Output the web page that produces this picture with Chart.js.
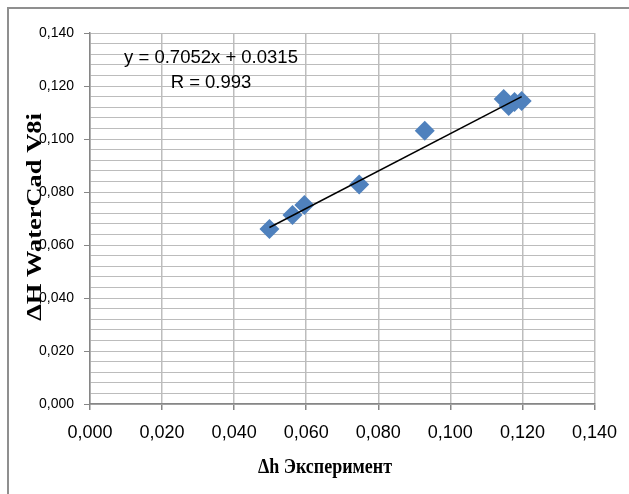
<!DOCTYPE html>
<html>
<head>
<meta charset="utf-8">
<script src="https://cdn.jsdelivr.net/npm/chart.js@4.4.0/dist/chart.umd.min.js"></script>
<style>
  html, body { margin: 0; padding: 0; background: #fff; }
  #wrap { position: relative; width: 629px; height: 494px; }
</style>
</head>
<body>
<div id="wrap"><canvas id="scatterChart"></canvas></div>
<script>
// Потери напора: эксперимент (x) и расчёт WaterCad V8i (y)
const dhExperiment = [0.0498, 0.0562, 0.0595, 0.0747, 0.0929, 0.1148, 0.1162, 0.1178, 0.1198];
const dhWaterCad   = [0.0660, 0.0713, 0.0751, 0.0828, 0.1031, 0.1151, 0.1125, 0.1140, 0.1143];

// линия тренда y = a*x + b
const trendSlope = 0.7052;
const trendIntercept = 0.0315;
const trendR = 0.993;

// подписи осей
const axisTicks = [0, 0.02, 0.04, 0.06, 0.08, 0.10, 0.12, 0.14];
const minorStep = 0.004;
const xTitle = 'Δh Эксперимент';
const yTitle = 'ΔH WaterCad V8i';

const fmt = v => v.toFixed(3).replace('.', ',');
const isMajor = v => Math.abs(Math.round(v * 1000) % 20) === 0;

const points = dhExperiment.map((x, i) => ({ x: x, y: dhWaterCad[i] }));
const xMin = Math.min(...dhExperiment);
const xMax = Math.max(...dhExperiment);
const trendPoints = [xMin, xMax].map(x => ({ x: x, y: trendSlope * x + trendIntercept }));

// рамка, подписи осей и уравнение
const decor = {
  id: 'decor',
  afterDraw(chart) {
    const ctx = chart.ctx;
    const a = chart.chartArea;
    ctx.save();

    // внешняя рамка
    ctx.strokeStyle = '#8f8f8f';
    ctx.lineWidth = 2;
    ctx.beginPath();
    ctx.moveTo(8, 494);
    ctx.lineTo(8, 8);
    ctx.lineTo(629, 8);
    ctx.stroke();

    // уравнение тренда
    ctx.fillStyle = '#000';
    ctx.font = '18.5px "Liberation Sans", Arial, sans-serif';
    ctx.textAlign = 'center';
    ctx.textBaseline = 'middle';
    const cx = a.left + 121;
    ctx.fillText('y = ' + trendSlope + 'x + ' + trendIntercept, cx, 58);
    ctx.fillText('R = ' + trendR, cx, 83);

    // подпись оси X
    ctx.font = 'bold 18px "Liberation Serif", "Times New Roman", serif';
    ctx.save();
    ctx.translate(325, 467);
    ctx.scale(1, 1.2);
    ctx.fillText(xTitle, 0, 0);
    ctx.restore();

    // подпись оси Y
    ctx.font = 'bold 21px "Liberation Serif", "Times New Roman", serif';
    ctx.save();
    ctx.translate(36, 217);
    ctx.rotate(-Math.PI / 2);
    ctx.scale(1.26, 1);
    ctx.fillText(yTitle, 0, 0);
    ctx.restore();

    ctx.restore();
  }
};

new Chart(document.getElementById('scatterChart'), {
  type: 'scatter',
  data: {
    datasets: [{
      type: 'line',
      label: 'Тренд',
      data: trendPoints,
      borderColor: '#000',
      borderWidth: 1.5,
      pointRadius: 0,
      fill: false,
      order: 0
    }, {
      label: 'ΔH',
      data: points,
      pointStyle: 'rectRot',
      pointRadius: 10,
      pointHoverRadius: 10,
      backgroundColor: '#4f81bd',
      borderColor: '#4f81bd',
      borderWidth: 0,
      order: 1
    }]
  },
  options: {
    responsive: true,
    maintainAspectRatio: false,
    animation: false,
    layout: { padding: { left: 0, right: 33, top: 33, bottom: 0 } },
    plugins: {
      legend: { display: false },
      tooltip: { enabled: false }
    },
    scales: {
      x: {
        type: 'linear',
        min: 0,
        max: 0.14,
        afterBuildTicks: s => { s.ticks = axisTicks.map(v => ({ value: v })); },
        afterFit: s => { s.height = 90; },
        ticks: {
          color: '#000',
          font: { family: '"Liberation Sans", Arial, sans-serif', size: 18 },
          padding: 12,
          maxRotation: 0,
          callback: v => fmt(v)
        },
        grid: {
          color: '#bdbdbd',
          lineWidth: 1.5,
          tickLength: 6,
          tickColor: '#868686'
        },
        border: { color: '#868686', width: 1.5 }
      },
      y: {
        type: 'linear',
        min: 0,
        max: 0.14,
        afterBuildTicks: s => {
          const t = [];
          for (let k = 0; k <= Math.round(0.14 / minorStep); k++) t.push({ value: k * minorStep });
          s.ticks = t;
        },
        afterFit: s => { s.width = 90; },
        ticks: {
          color: '#000',
          font: { family: '"Liberation Sans", Arial, sans-serif', size: 14 },
          padding: 10,
          autoSkip: false,
          callback: v => (isMajor(v) ? fmt(v) : '')
        },
        grid: {
          color: '#bcbcbc',
          lineWidth: 1,
          tickLength: 6,
          tickColor: c => (isMajor(c.tick.value) ? '#868686' : 'rgba(0,0,0,0)')
        },
        border: { color: '#868686', width: 1.5 }
      }
    }
  },
  plugins: [decor]
});
</script>
</body>
</html>
